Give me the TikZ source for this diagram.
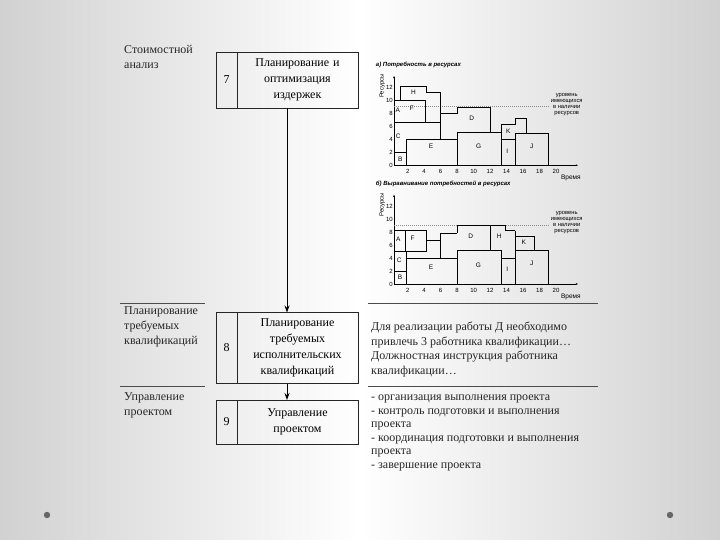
\documentclass[tikz,border=0pt]{standalone}
\usepackage{fontspec}
\setmainfont{Liberation Serif}
\setsansfont{Liberation Sans}
\usetikzlibrary{arrows.meta, positioning, calc}

\tikzset{
  numcell/.style={rectangle, draw=black!85, line width=0.7pt, minimum width=21pt, inner sep=0pt, outer sep=0pt, font=\fontsize{12}{16}\selectfont},
  textcell/.style={rectangle, draw=black!85, line width=0.7pt, minimum width=121pt, text width=115pt, align=center, inner sep=0pt, outer sep=0pt, font=\fontsize{12}{16}\selectfont},
  rowlabel/.style={anchor=north west, align=left, inner sep=0pt, text=black!85, font=\fontsize{12}{15}\selectfont},
  note/.style={anchor=north west, align=left, inner sep=0pt, text=black!85, font=\fontsize{12}{14.5}\selectfont},
  flow/.style={-{Stealth[length=7pt,width=5pt]}, line width=0.9pt},
  rule/.style={black!70, line width=0.7pt},
  block/.style={draw, line width=0.45pt},
  thickblock/.style={draw, line width=1.1pt},
  blabel/.style={font=\sffamily\fontsize{6.5}{6.5}\selectfont, inner sep=0pt},
  ticklabel/.style={font=\sffamily\fontsize{6}{6}\selectfont, inner sep=0.8pt}
}

% axes, ticks and level line of one resource chart
\newcommand{\resaxes}[2]{%
  \draw[line width=0.5pt, -{Latex[length=2.5pt,width=2pt]}] (0.35,0) -- (0.35,13.8);
  \draw[line width=0.5pt, -{Latex[length=2.5pt,width=2pt]}] (0.35,0) -- (22.7,0);
  \foreach \y in {0,2,...,12}
    \node[ticklabel, anchor=east] (#1-y\y) at (0.3,\y) {\y};
  \foreach \x in {2,4,...,20}
    \node[ticklabel] (#1-x\x) at (\x,-0.95) {\x};
  \node[ticklabel, rotate=90] (#1-ylab) at (-1.1,12.2) {Ресурсы};
  \node[ticklabel, anchor=west, font=\sffamily\bfseries\itshape\fontsize{6}{6}\selectfont] (#1-title) at (-1.97,15.4) {#2};
  \draw[densely dotted, black!45, line width=1pt] (0.35,9) -- (19.1,9);
  \node[ticklabel, align=center, font=\sffamily\fontsize{5.8}{6}\selectfont] (#1-level) at (21.3,9.4) {уровень\\имеющихся\\в наличии\\ресурсов};
  \node[ticklabel, font=\sffamily\fontsize{6.5}{6.5}\selectfont] (#1-time) at (21.8,-1.95) {Время};
}

\begin{document}
\begin{tikzpicture}[x=1pt, y=-1pt]
  % slide background
  \shade[left color=black!18, right color=black!18, middle color=white] (0,0) rectangle (720,540);
  \fill[black!60] (47,515) circle (3.2);
  \fill[black!60] (670,515) circle (3.2);

  % row labels
  \node[rowlabel] (cost) at (124,45) {Стоимостной\\анализ};
  \node[rowlabel] (qual) at (124,306) {Планирование\\требуемых\\квалификаций};
  \node[rowlabel] (mgmt) at (124,392) {Управление\\проектом};

  % row separators
  \draw[rule] (120,303) -- (205,303);
  \draw[rule] (368,303) -- (598,303);
  \draw[rule] (120,386) -- (205,386);
  \draw[rule] (368,386) -- (598,386);

  % process boxes
  \node[numcell, minimum height=56pt] (n7) at (226.5,80) {7};
  \node[textcell, minimum height=56pt, right=0pt of n7] (t7) {Планирование и\\оптимизация\\издержек};
  \node[numcell, minimum height=71pt] (n8) at (226.5,348) {8};
  \node[textcell, minimum height=71pt, right=0pt of n8] (t8) {Планирование\\требуемых\\исполнительских\\квалификаций};
  \node[numcell, minimum height=44pt] (n9) at (226.5,422) {9};
  \node[textcell, minimum height=44pt, right=0pt of n9] (t9) {Управление\\проектом};

  \coordinate (a7) at ($(n7.south west)!0.5!(t7.south east)$);
  \coordinate (a8) at ($(n8.south west)!0.5!(t8.south east)$);
  \draw[flow] (a7) -- (a7 |- n8.north);
  \draw[flow] (a8) -- (a8 |- n9.north);

  % notes on the right
  \node[note] (qualnote) at (371,322) {Для реализации работы Д необходимо\\привлечь 3 работника квалификации\dots\\Должностная инструкция работника\\квалификации\dots};
  \node[note, font=\fontsize{12}{13.5}\selectfont] (mgmtnote) at (371,395) {- организация выполнения проекта\\- контроль подготовки и выполнения\\проекта\\- координация подготовки и выполнения\\проекта\\- завершение проекта};

  % chart a: resource demand
  \begin{scope}[shift={(391.2,165.3)}, x=8.24pt, y=6.5pt]
    \resaxes{ca}{а) Потребность в ресурсах}
    \draw[block] (0.35,0) rectangle (1.88,2);
    \draw[block] (1.88,0) rectangle (8,4);
    \draw[block] (0.35,6.6) -- (6,6.6) -- (6,4);
    \draw[block] (0.35,10) -- (4.15,10) -- (4.15,6.6);
    \draw[block] (1.07,10) -- (1.07,12.1) -- (4.3,12.1) -- (4.3,11.2) -- (6,11.2);
    \draw[thickblock] (6,11.2) -- (6,4);
    \draw[block] (6,8) -- (8,8) -- (8,9) -- (12,9) -- (12,5.05);
    \draw[block] (8,0) rectangle (13.3,5.05);
    \draw[block] (13.3,0) rectangle (15,4);
    \draw[block] (13.3,4) -- (13.3,6.3) -- (15,6.3) -- (15,7.3) -- (16.4,7.3) -- (16.4,5);
    \draw[block] (15,0) rectangle (19.1,5);
    \node[blabel] (ca-A) at (0.8,8.4) {A};
    \node[blabel] (ca-F) at (2.5,8.8) {F};
    \node[blabel] (ca-H) at (2.7,11.2) {H};
    \node[blabel] (ca-C) at (0.86,4.5) {C};
    \node[blabel] (ca-B) at (1.1,1) {B};
    \node[blabel] (ca-E) at (4.83,2.9) {E};
    \node[blabel] (ca-D) at (9.77,7.3) {D};
    \node[blabel] (ca-G) at (10.6,3.0) {G};
    \node[blabel] (ca-I) at (14.1,2.1) {I};
    \node[blabel] (ca-K) at (14.2,5.2) {K};
    \node[blabel] (ca-J) at (17.05,3.0) {J};
  \end{scope}

  % chart b: levelled demand
  \begin{scope}[shift={(391.2,284)}, x=8.24pt, y=6.5pt]
    \resaxes{cb}{б) Выравнивание потребностей в ресурсах}
    \draw[block] (0.35,0) rectangle (1.88,2);
    \draw[block] (0.35,2) rectangle (1.88,5);
    \draw[block] (1.88,0) rectangle (8,4);
    \draw[block] (0.35,5) rectangle (4.2,8.2);
    \draw[block] (1.67,5) -- (1.67,8.2);
    \draw[block] (4.2,6.8) -- (6,6.8);
    \draw[thickblock] (6,4) -- (6,7.8) -- (8,7.8);
    \draw[block] (8,7.8) -- (8,9) -- (12,9) -- (12,5.2);
    \draw[block] (8,0) rectangle (13.3,5.2);
    \draw[block] (12,9) -- (13.8,9) -- (13.8,8.2);
    \draw[thickblock] (13.8,8.2) -- (15,8.2);
    \draw[block] (15,8.2) -- (15,5.2);
    \draw[block] (13.3,0) rectangle (15,4);
    \draw[block] (15,5.2) rectangle (17.4,7.3);
    \draw[block] (15,0) rectangle (19.1,5.2);
    \node[blabel] (cb-A) at (0.86,6.9) {A};
    \node[blabel] (cb-F) at (2.6,7.0) {F};
    \node[blabel] (cb-C) at (0.98,3.6) {C};
    \node[blabel] (cb-B) at (1.07,1.0) {B};
    \node[blabel] (cb-E) at (4.83,2.6) {E};
    \node[blabel] (cb-D) at (9.65,7.3) {D};
    \node[blabel] (cb-G) at (10.57,2.9) {G};
    \node[blabel] (cb-H) at (13.1,7.3) {H};
    \node[blabel] (cb-I) at (14.1,2.3) {I};
    \node[blabel] (cb-K) at (16.1,6.35) {K};
    \node[blabel] (cb-J) at (17.05,3.2) {J};
  \end{scope}
\end{tikzpicture}
\end{document}
